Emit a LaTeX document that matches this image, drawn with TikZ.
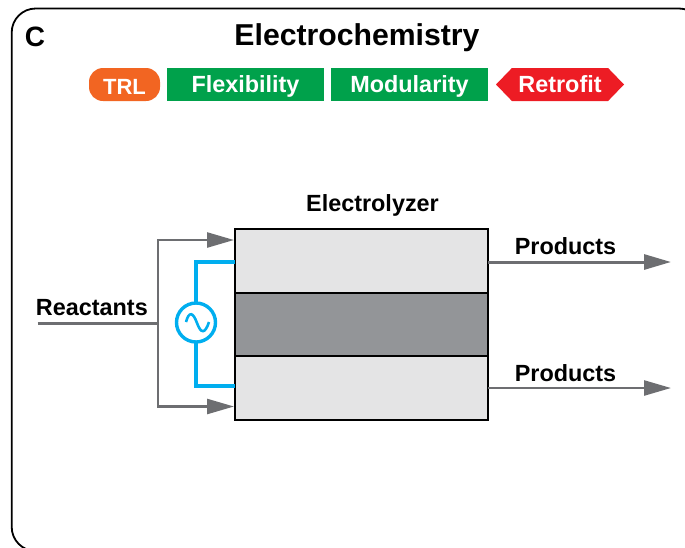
\documentclass[tikz,border=0pt]{standalone}
\usepackage{fontspec}
\setmainfont{Liberation Sans}
\usetikzlibrary{arrows.meta, positioning, shapes.symbols}

\definecolor{tagorange}{HTML}{F26522}
\definecolor{taggreen}{HTML}{00A14B}
\definecolor{tagred}{HTML}{ED1C24}
\definecolor{wireblue}{HTML}{00AEEF}
\definecolor{pipegray}{HTML}{6D6E71}
\definecolor{lightlayer}{HTML}{E4E4E5}
\definecolor{darklayer}{HTML}{939598}

\begin{document}
\begin{tikzpicture}[x=1pt, y=-1pt]
		\tikzstyle{Tag} = [rectangle, minimum width=157pt, minimum height=33pt, inner sep=0pt, outer sep=0pt, text centered, text=white, text height=16.5pt, text depth=0pt, font=\fontsize{23.4}{25}\bfseries, fill=taggreen]
		\tikzstyle{RoundTag} = [Tag, minimum width=71pt, rounded corners=14pt, text height=20.5pt, font=\fontsize{22}{24}\bfseries, fill=tagorange]
		\tikzstyle{PointTag} = [Tag, signal, signal to=west and east, signal pointer angle=92, minimum width=128pt, fill=tagred]
		\tikzstyle{Layer} = [rectangle, minimum width=253pt, minimum height=63.5pt, inner sep=0pt, outer sep=0pt, draw=black, line width=2pt, fill=lightlayer]
		\tikzstyle{MidLayer} = [Layer, fill=darklayer]
		\tikzstyle{Label} = [inner sep=0pt, anchor=base, font=\fontsize{23.4}{25}\bfseries]
		\tikzstyle{pipe} = [pipegray, line width=2.5pt]
		\tikzstyle{arrow} = [pipe, -{Triangle[length=27pt, width=15pt]}]
		\tikzstyle{wire} = [wireblue, line width=3.4pt]

		\useasboundingbox (0,0) rectangle (685,547);
		\clip (0,0) rectangle (685,547);
		\draw[line width=1.8pt, rounded corners=24pt] (11.7,8.5) rectangle (703,551);

		% heading
		\node (panel) [Label, font=\fontsize{28}{30}\bfseries] at (35,46) {C};
		\node (title) [Label, font=\fontsize{30.2}{32}\bfseries] at (357,45.5) {Electrochemistry};
		\node (trl) [RoundTag] at (124.5,84.5) {TRL};
		\node (flex) [Tag, right = 7pt of trl] {Flexibility};
		\node (mod) [Tag, right = 7pt of flex] {Modularity};
		\node (retro) [PointTag, right = 8pt of mod] {Retrofit};

		% cell
		\node (mid) [MidLayer] at (361.5,324.5) {};
		\node (top) [Layer, above = 0pt of mid] {};
		\node (bot) [Layer, below = 0pt of mid] {};
		\node (cell) [Label] at (372.5,211) {Electrolyzer};

		% supply
		\coordinate (wireA) at (235,262);
		\coordinate (wireB) at (235,386);
		\node (supply) [circle, draw=wireblue, line width=3.4pt, minimum size=39pt, inner sep=0pt, outer sep=0pt] at (196,322.5) {};
		\draw[wire] (supply.north) |- (wireA);
		\draw[wire] (supply.south) |- (wireB);
		\draw[wireblue, line width=2.6pt] (186,322) .. controls (189,311) and (193,312) .. (197,323) .. controls (201,334) and (205,334) .. (209,322);

		% feed
		\coordinate (feed) at (37.5,323.3);
		\coordinate (split) at (158,323.3);
		\coordinate (inA) at (234,240);
		\coordinate (inB) at (234,406.5);
		\node (react) [Label, anchor=base east] at (148,315) {Reactants};
		\draw[pipe, line width=3pt] (feed) -- (split);
		\draw[arrow] (split) |- (inA);
		\draw[arrow] (split) |- (inB);

		% outlets
		\coordinate (outA) at (671,262);
		\coordinate (outB) at (671,388);
		\draw[arrow, line width=3pt] (top.east |- outA) -- (outA);
		\draw[arrow] (top.east |- outB) -- (outB);
		\node (prodA) [Label] at (565.5,254.5) {Products};
		\node (prodB) [Label] at (565.5,381.5) {Products};
\end{tikzpicture}
\end{document}
